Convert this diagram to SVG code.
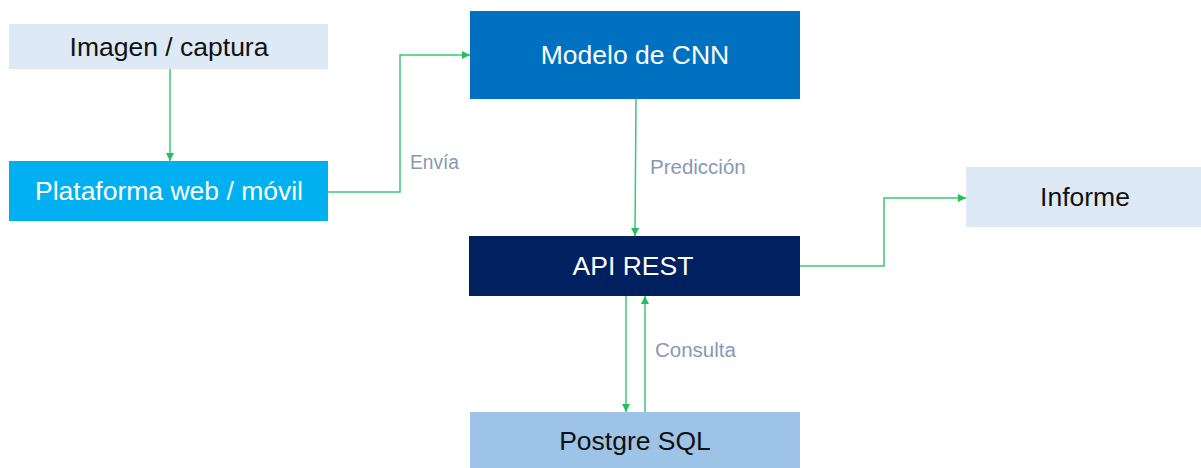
<svg xmlns="http://www.w3.org/2000/svg" width="1201" height="468" viewBox="0 0 1201 468">
  <style>
    .node-text { font-family: "Liberation Sans", Arial, sans-serif; font-size: 26.5px; text-anchor: middle; dominant-baseline: central; }
    .dark { fill: #111111; }
    .light { fill: #ffffff; }
    .edge { fill: none; stroke: #3cc873; stroke-width: 1.5; marker-end: url(#arrow); }
    .edge-label { font-family: "Liberation Sans", Arial, sans-serif; font-size: 20.5px; fill: #8798b4; dominant-baseline: central; }
  </style>
  <defs>
    <marker id="arrow" viewBox="0 0 10 10" refX="10" refY="5" markerWidth="8" markerHeight="8" markerUnits="userSpaceOnUse" orient="auto">
      <path d="M0,0 L10,5 L0,10 Z" fill="#22c05a"/>
    </marker>
  </defs>
  <rect width="1201" height="468" fill="#ffffff"/>

  <g id="connectors">
    <path class="edge" d="M170,69 V161"/>
    <path class="edge" d="M328,192 H400 V55 H470"/>
    <path class="edge" d="M636,99 L635,236"/>
    <path class="edge" d="M626,296 V412"/>
    <path class="edge" d="M645,412 V296"/>
    <path class="edge" d="M800,266 H884 V198 H966"/>
    <text class="edge-label" x="410" y="161" textLength="49" lengthAdjust="spacingAndGlyphs">Envía</text>
    <text class="edge-label" x="650" y="166">Predicción</text>
    <text class="edge-label" x="655" y="349">Consulta</text>
  </g>

  <g id="imagen">
    <rect x="9" y="24" width="319" height="45" fill="#dde9f5"/>
    <text class="node-text dark" x="169" y="47">Imagen / captura</text>
  </g>
  <g id="plataforma">
    <rect x="9" y="161" width="319" height="60" fill="#00b0f0"/>
    <text class="node-text light" x="169" y="191">Plataforma web / móvil</text>
  </g>
  <g id="modelo">
    <rect x="470" y="11" width="330" height="88" fill="#0070c0"/>
    <text class="node-text light" x="635" y="55">Modelo de CNN</text>
  </g>
  <g id="api">
    <rect x="469" y="236" width="331" height="60" fill="#002060"/>
    <text class="node-text light" x="633" y="266">API REST</text>
  </g>
  <g id="postgre">
    <rect x="470" y="412" width="330" height="56" fill="#9dc3e6"/>
    <text class="node-text dark" x="635" y="441">Postgre SQL</text>
  </g>
  <g id="informe">
    <rect x="966" y="167" width="235" height="60" fill="#dde9f5"/>
    <text class="node-text dark" x="1085" y="197">Informe</text>
  </g>
</svg>
